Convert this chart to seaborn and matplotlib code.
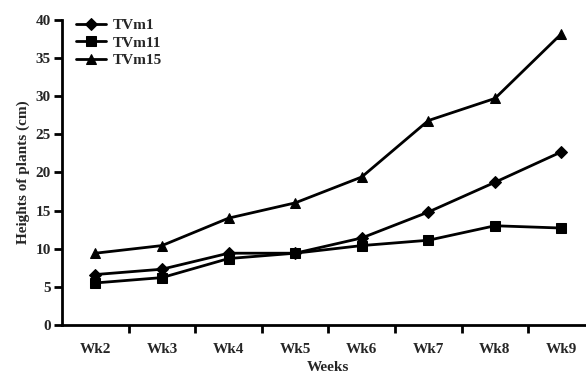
import matplotlib
matplotlib.use("Agg")
import matplotlib.pyplot as plt
import seaborn as sns
import pandas as pd
import numpy as np

weeks = ["Wk2", "Wk3", "Wk4", "Wk5", "Wk6", "Wk7", "Wk8", "Wk9"]
tvm1 = [6.6, 7.3, 9.4, 9.4, 11.4, 14.8, 18.7, 22.7]
tvm11 = [5.5, 6.2, 8.7, 9.4, 10.4, 11.1, 13.0, 12.7]
tvm15 = [9.4, 10.4, 14.0, 16.0, 19.4, 26.8, 29.7, 38.2]
series_names = ["TVm1", "TVm11", "TVm15"]
y_ticks = [0, 5, 10, 15, 20, 25, 30, 35, 40]

sns.set_theme(style="white")
plt.rcParams['font.family'] = ['Liberation Serif', 'DejaVu Serif']

df = pd.DataFrame({
    "Week": weeks * 3,
    "Height": tvm1 + tvm11 + tvm15,
    "Variety": [series_names[0]] * 8 + [series_names[1]] * 8 + [series_names[2]] * 8,
})
df["x"] = np.tile(np.arange(len(weeks)), 3)

fig = plt.figure(figsize=(5.86, 3.76), dpi=100)
ax = fig.add_axes([0.106, 0.136, 0.909, 0.811])

sns.lineplot(data=df, x="x", y="Height", hue="Variety", style="Variety",
             markers={"TVm1": "D", "TVm11": "s", "TVm15": "^"},
             dashes=False, palette=["black"] * 3, linewidth=2,
             markersize=7, markeredgecolor="black", ax=ax)
# slightly smaller diamonds
for line in ax.get_lines():
    if line.get_marker() == "D":
        line.set_markersize(6)

ax.set_xlim(-0.5, 7.5)
ax.set_ylim(0, 40)
ax.set_yticks(y_ticks)
ax.set_xticks(range(len(weeks)))
ax.set_xticklabels(weeks, fontweight="bold", fontsize=11)
ax.set_xticks(np.arange(0.5, 7.5, 1), minor=True)
ax.tick_params(axis="x", which="major", length=0, pad=13)
ax.tick_params(axis="x", which="minor", length=6, width=2, direction="out", color="black", bottom=True)
ax.tick_params(axis="y", which="major", length=6, width=2, direction="out", color="black", left=True, labelsize=11, pad=2)
for lab in ax.get_yticklabels():
    lab.set_fontweight("bold")

for side in ["top", "right"]:
    ax.spines[side].set_visible(False)
for side in ["left", "bottom"]:
    ax.spines[side].set_linewidth(2)
    ax.spines[side].set_color("black")

ax.set_xlabel("Weeks", fontweight="bold", fontsize=11, labelpad=4)
ax.set_ylabel("Heights of plants (cm)", fontweight="bold", fontsize=11, labelpad=4)

leg = ax.legend(title=None, loc="upper left", bbox_to_anchor=(0.0, 1.05), frameon=False,
                handlelength=2.0, handletextpad=0.4, labelspacing=0.25,
                prop={"weight": "bold", "size": 11})

fig.savefig("out.png", dpi=100)
